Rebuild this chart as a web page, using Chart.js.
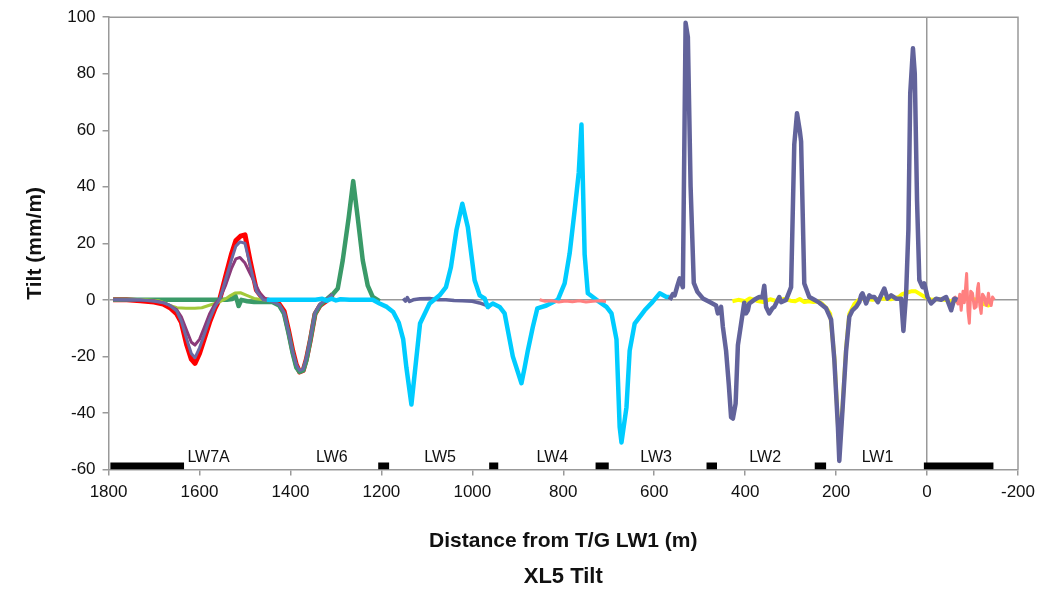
<!DOCTYPE html>
<html>
<head>
<meta charset="utf-8">
<title>XL5 Tilt</title>
<script src="https://cdn.jsdelivr.net/npm/chart.js@4.4.1/dist/chart.umd.min.js"></script>
<style>
    html, body { margin: 0; padding: 0; background: #ffffff; }
</style>
</head>
<body>
<canvas id="tiltChart" width="1050" height="589"></canvas>
<script>
// [distance from T/G LW1 (m), tilt (mm/m)]
var red7A = [[1790,0],[1760,0],[1730,-0.3],[1700,-0.8],[1680,-1.5],[1665,-2.8],[1650,-5],[1640,-8],[1628,-16],[1618,-21],[1610,-22.5],[1600,-19],[1590,-14],[1578,-8],[1566,-3],[1555,0.5],[1543,8],[1530,16],[1520,21],[1510,22.5],[1500,23],[1489,14],[1475,3.5],[1460,0.3],[1452,0],[1440,-0.5],[1425,-1.5],[1414,-4],[1404,-11],[1395,-18],[1387,-23],[1380,-25.5],[1372,-25],[1365,-21],[1356,-14],[1346,-5],[1335,-2],[1322,-0.5],[1307,2]];
var slate7A = [[1790,0],[1730,0],[1700,-0.5],[1680,-1],[1665,-2],[1650,-4],[1640,-7.5],[1628,-14],[1618,-19],[1610,-20.5],[1600,-17],[1590,-12.5],[1578,-7],[1566,-2.5],[1555,0.5],[1543,7],[1530,14],[1520,19],[1511,20.5],[1500,20],[1489,12.5],[1475,3],[1460,0],[1440,-0.6],[1425,-1.7],[1414,-4.5],[1404,-11.5],[1395,-18.5],[1387,-23],[1380,-25],[1372,-24.5],[1365,-20.5],[1356,-13.5],[1346,-4.5],[1335,-1.5],[1322,0],[1307,2]];
var purple7A = [[1790,0],[1700,-0.3],[1680,-1],[1665,-2],[1650,-3.5],[1640,-6],[1628,-11],[1618,-15],[1610,-16],[1600,-14],[1590,-10],[1578,-5],[1566,-1.5],[1555,0.5],[1543,5],[1530,11],[1520,14.5],[1511,15],[1500,13],[1489,9.4],[1480,6.5],[1467,2.3],[1455,0.3],[1440,0]];
var lime7A = [[1790,0],[1720,0],[1690,-0.3],[1675,-1.2],[1665,-2],[1650,-2.8],[1630,-3],[1610,-3],[1595,-2.8],[1580,-2],[1566,-1.3],[1555,-0.6],[1543,0.3],[1532,1.5],[1522,2.4],[1510,2.5],[1496,1.6],[1480,0.5],[1460,0],[1445,-0.3]];
var green6 = [[1790,0],[1700,0],[1600,0],[1540,0],[1528,0.3],[1522,1.8],[1517,-0.5],[1514,-2.2],[1508,0],[1495,-0.5],[1480,-0.8],[1460,-0.7],[1440,-0.8],[1425,-2],[1414,-5],[1404,-12],[1395,-19],[1387,-24],[1380,-25.5],[1372,-25],[1365,-21.5],[1356,-14],[1346,-5],[1335,-2],[1322,0],[1307,2],[1296,4],[1285,14],[1272,29],[1262,42],[1252,29],[1241,14],[1230,5],[1219,1],[1204,-0.5]];
var cyan543 = [[1452,0],[1430,0],[1400,0],[1370,0],[1345,0],[1330,0.4],[1320,-0.3],[1310,0.4],[1300,-0.2],[1290,0.2],[1270,0],[1250,0],[1230,0],[1219,0],[1204,-1.3],[1188,-2.5],[1174,-4.3],[1162,-8],[1152,-14],[1145,-24],[1134,-37],[1115,-8.4],[1094,-1.3],[1072,1.6],[1058,4.5],[1047,11.6],[1035,24.6],[1022,34],[1010,25.8],[995,6.9],[984,1.6],[973,0.5],[966,-2.5],[955,-1.3],[940,-2.5],[929,-4.8],[911,-20],[892,-29.5],[885,-24],[878,-18],[867,-9.6],[857,-3],[837,-2],[812,0],[797,5.8],[786,16.4],[775,31.7],[766,45],[760,62],[753,16],[746,2.3],[727,0],[705,-2.5],[694,-4.8],[683,-14],[676,-45],[672,-50.5],[661,-38],[654,-18],[643,-8.4],[621,-3.7],[604,-0.8],[588,2.3],[573,1],[566,1]];
var slate5 = [[1152,0.5],[1147,-0.5],[1143,0.8],[1138,-0.6],[1130,0],[1115,0.4],[1094,0.5],[1075,0],[1058,0],[1040,-0.2],[1022,-0.3],[1000,-0.5],[984,-1.1],[969,-2],[962,-3]];
var salmon4 = [[852,0],[840,-0.5],[825,-0.3],[810,-0.8],[795,-0.4],[780,-0.7],[765,-0.3],[750,-0.8],[735,-0.5],[720,-0.3],[706,-0.6]];
var salmonEnd = [[-55,0],[-62,1],[-68,-1.5],[-72,2],[-75,-3.7],[-79,3],[-82,-1],[-85,5],[-87,9.3],[-90,-4],[-93,-8.3],[-96,3],[-100,2.3],[-104,-3],[-108,-2.5],[-111,4],[-113,5.8],[-116,-2],[-119,-4.8],[-122,2],[-126,1],[-129,-1.5],[-131,-2],[-135,2.3],[-138,-1],[-141,-2],[-144,1],[-148,0]];
var yellow21 = [[428,-0.5],[415,0],[400,-0.5],[390,0.5],[375,-0.3],[360,-0.8],[345,0.2],[330,-0.5],[315,0.3],[300,-0.3],[290,-0.5],[280,0.3],[270,-0.8],[260,-0.5],[250,-0.8],[240,-0.5],[230,-1.5],[221,-3],[213,-5],[204,-20],[196,-44],[193,-54],[186,-38],[178,-17],[171,-5],[160,-1.5],[150,0],[140,0.5],[120,0],[100,0.5],[80,0.2],[62,1],[55,2],[45,2.5],[35,3],[25,3],[15,2],[5,1],[-10,0],[-30,0.3],[-50,-0.3],[-70,-0.5],[-90,0.5],[-110,0],[-125,-1.5],[-135,-2],[-140,-1]];
var slate321 = [[566,0],[559,2],[555,1.6],[549,5],[544,7.6],[537,4.5],[531,98],[526,93],[520,40],[513,6],[505,2.8],[493,0.5],[478,-0.8],[464,-2],[460,-4.8],[453,-2.5],[449,-9.6],[442,-18],[436,-30],[431,-41.5],[427,-42],[421,-36.7],[416,-16],[409,-8.5],[402,-1],[398,-4.8],[394,-3.7],[391,-1.3],[380,0],[369,1],[362,1],[358,5],[354,-2.5],[347,-4.8],[340,-3],[336,-2.5],[325,1],[321,-0.8],[310,0],[303,2.8],[299,4.5],[292,55],[286,66],[280,60],[277,56],[270,5.8],[259,1],[248,0],[237,-1],[222,-3],[211,-7],[204,-21],[196,-45],[193,-57],[186,-39],[178,-18],[171,-6],[164,-3.7],[156,-2.5],[149,-0.8],[145,1.6],[142,2.3],[134,-1.3],[127,1.6],[123,1],[116,1],[108,-0.8],[101,1.6],[94,4],[87,0.4],[79,1.6],[68,0.4],[57,0.4],[52,-11],[46,2.3],[41,25],[37,73],[31,89],[27,80],[22,35],[17,7],[10,4.5],[6,5.8],[-1,1],[-9,-1.3],[-20,0.4],[-31,0],[-42,1],[-53,-3.7],[-60,0.4],[-67,0]];

// chain pillars between panels (distance from / to) and panel names
var pillarFrom = [1796, 1207, 963, 729, 485, 247, 7];
var pillarTo = [1634, 1183, 943, 700, 462, 222, -146];
var pillarTilt = -58.8;
var panelNames = ["LW7A", "LW6", "LW5", "LW4", "LW3", "LW2", "LW1"];
var panelLabelAt = [1580, 1309, 1071, 824, 596, 356, 109];
var panelLabelTilt = -55.9;

var FONT = '"Liberation Sans", Arial, Helvetica, sans-serif';

function toPoints(list) {
    return list.map(function (p) { return { x: p[0], y: p[1] }; });
}

function series(list, color, width) {
    return {
        data: toPoints(list),
        borderColor: color,
        backgroundColor: color,
        borderWidth: width,
        borderJoinStyle: "round",
        pointRadius: 0,
        tension: 0,
        fill: false
    };
}

var pillarPoints = [];
pillarFrom.forEach(function (from, i) {
    pillarPoints.push({ x: from, y: pillarTilt });
    pillarPoints.push({ x: pillarTo[i], y: pillarTilt });
    pillarPoints.push({ x: pillarTo[i], y: null });
});

var framePlugin = {
    id: "frameAndLabels",
    afterDraw: function (chart) {
        var ctx = chart.ctx;
        var area = chart.chartArea;
        var xs = chart.scales.x;
        var ys = chart.scales.y;
        ctx.save();
        ctx.strokeStyle = "#999999";
        ctx.lineWidth = 1.5;
        ctx.beginPath();
        ctx.moveTo(area.left, area.top);
        ctx.lineTo(area.right, area.top);
        ctx.lineTo(area.right, area.bottom);
        ctx.stroke();

        ctx.fillStyle = "#111111";
        ctx.textAlign = "center";
        ctx.textBaseline = "middle";
        ctx.font = "16px " + FONT;
        panelNames.forEach(function (name, i) {
            ctx.fillText(name, xs.getPixelForValue(panelLabelAt[i]), ys.getPixelForValue(panelLabelTilt));
        });

        ctx.font = "bold 22px " + FONT;
        ctx.fillText("XL5 Tilt", (area.left + area.right) / 2, 577);
        ctx.restore();
    }
};

var pillars = series([], "#000000", 7);
pillars.data = pillarPoints;
pillars.borderCapStyle = "butt";
pillars.borderJoinStyle = "miter";
pillars.spanGaps = false;

new Chart(document.getElementById("tiltChart").getContext("2d"), {
    type: "line",
    data: {
        datasets: [
            pillars,
            series(slate321, "#62639b", 4.5),
            series(salmonEnd, "#ff8080", 3),
            series(yellow21, "#ffff00", 4),
            series(salmon4, "#ff8080", 3),
            series(cyan543, "#00ccff", 4.5),
            series(slate5, "#62639b", 3.5),
            series(slate7A, "#6a6aa3", 3),
            series(purple7A, "#8b3a7a", 3),
            series(lime7A, "#a3c93a", 3),
            series(green6, "#3a9a68", 4.5),
            series(red7A, "#ff0000", 5)
        ]
    },
    options: {
        responsive: false,
        animation: false,
        layout: {
            padding: { left: 14, right: 32, top: 17, bottom: 35 }
        },
        plugins: {
            legend: { display: false },
            tooltip: { enabled: false },
            title: { display: false }
        },
        scales: {
            x: {
                type: "linear",
                reverse: true,
                min: -200,
                max: 1800,
                border: { display: true, color: "#999999", width: 1.5 },
                grid: {
                    color: function (c) { return c.tick && c.tick.value === 0 ? "#999999" : "rgba(0,0,0,0)"; },
                    lineWidth: 1.5,
                    tickColor: "#999999",
                    tickLength: 6
                },
                ticks: {
                    stepSize: 200,
                    padding: 7,
                    color: "#111111",
                    font: { family: FONT, size: 17 },
                    maxRotation: 0,
                    callback: function (v) { return String(v); }
                },
                title: {
                    display: true,
                    text: "Distance from T/G LW1 (m)",
                    color: "#111111",
                    font: { family: FONT, size: 21, weight: "bold" },
                    padding: { top: 19, bottom: 0 }
                }
            },
            y: {
                type: "linear",
                min: -60,
                max: 100,
                border: { display: true, color: "#999999", width: 1.5 },
                grid: {
                    color: function (c) { return c.tick && c.tick.value === 0 ? "#999999" : "rgba(0,0,0,0)"; },
                    lineWidth: 1.5,
                    tickColor: "#999999",
                    tickLength: 6
                },
                ticks: {
                    stepSize: 20,
                    padding: 7,
                    color: "#111111",
                    font: { family: FONT, size: 17 }
                },
                title: {
                    display: true,
                    text: "Tilt (mm/m)",
                    color: "#111111",
                    font: { family: FONT, size: 21, weight: "bold" },
                    padding: { top: 9, bottom: 12 }
                }
            }
        }
    },
    plugins: [framePlugin]
});
</script>
</body>
</html>
